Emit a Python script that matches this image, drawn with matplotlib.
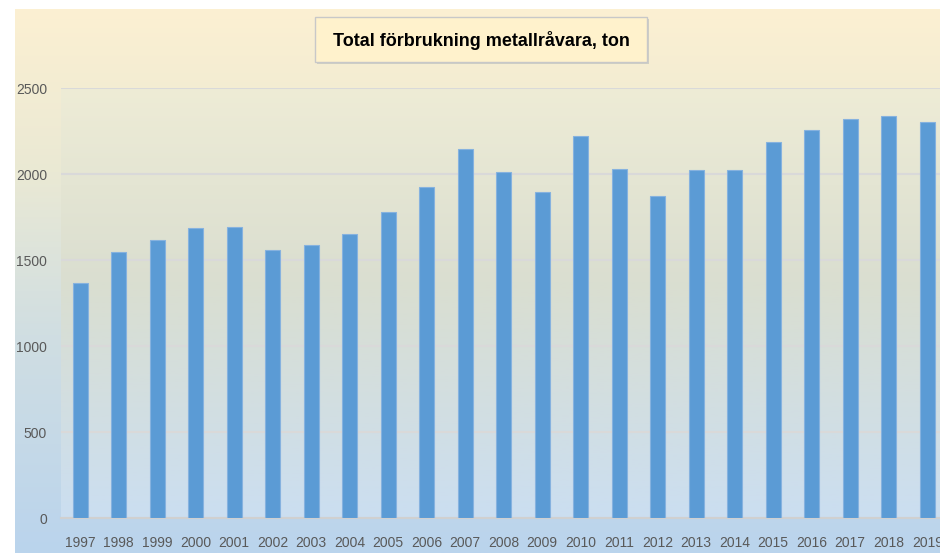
import matplotlib
matplotlib.use('Agg')
import matplotlib.pyplot as plt
from matplotlib.patches import Rectangle
import numpy as np

# Values (ton)
years = ['1997', '1998', '1999', '2000', '2001', '2002', '2003', '2004', '2005', '2006', '2007', '2008',
         '2009', '2010', '2011', '2012', '2013', '2014', '2015', '2016', '2017', '2018', '2019']
tonnes = [1366, 1550, 1618, 1686, 1695, 1558, 1591, 1653, 1783, 1928, 2145, 2015,
          1895, 2224, 2033, 1876, 2025, 2025, 2190, 2259, 2320, 2339, 2302]
y_ticks = [0, 500, 1000, 1500, 2000, 2500]
title = 'Total förbrukning metallråvara, ton'

W, H = 940, 553
label_font = ['Liberation Sans', 'DejaVu Sans']


def gradient(stops, n=256):
    # vertical colour ramp, top row first
    pos = np.array([s[0] for s in stops])
    cols = np.array([s[1] for s in stops], dtype=float) / 255
    t = np.linspace(0, 1, n)
    rgb = np.stack([np.interp(t, pos, cols[:, k]) for k in range(3)], axis=1)
    return rgb[:, None, :]


fig = plt.figure(figsize=(W / 100, H / 100), dpi=100)
fig.patch.set_facecolor('white')

# chart area background (whole chart, under the white margin strips)
ax_bg = fig.add_axes([15 / W, 0, 1 - 15 / W, (H - 9) / H], zorder=0)
ax_bg.imshow(gradient([(0, (252, 240, 210)), (0.3, (234, 233, 212)), (0.6, (208, 222, 226)), (1, (186, 212, 237))]),
             aspect='auto', extent=[0, 1, 0, 1])
ax_bg.set_axis_off()

# plot area position
left, right = 61, 946.5
top, bottom = 88.3, 518.3
pos = [left / W, 1 - bottom / H, (right - left) / W, (bottom - top) / H]

ax_pbg = fig.add_axes(pos, zorder=1)
ax_pbg.imshow(gradient([(0, (238, 236, 214)), (0.45, (218, 222, 208)), (1, (203, 222, 241))]),
              aspect='auto', extent=[0, 1, 0, 1])
ax_pbg.set_axis_off()

ax = fig.add_axes(pos, zorder=2)
ax.patch.set_visible(False)
x = np.arange(len(years))
ax.bar(x, tonnes, width=0.4, color='#5B9BD5', edgecolor='#86B2DF', linewidth=0.8, zorder=3)
ax.set_xlim(-0.5, len(years) - 0.5)
ax.set_ylim(0, 2500)
ax.set_yticks(y_ticks)
ax.set_xticks(x)
ax.set_xticklabels(years)
ax.yaxis.grid(True, color='#D9D9D9', linewidth=1.5, zorder=0)
ax.set_axisbelow(True)
for side in ['top', 'right', 'left']:
    ax.spines[side].set_visible(False)
ax.spines['bottom'].set_color('#D0D0D0')
ax.spines['bottom'].set_linewidth(1.5)
ax.tick_params(length=0, colors='#595959')
ax.tick_params(axis='y', pad=10)
ax.tick_params(axis='x', pad=13)
for lab in ax.get_xticklabels() + ax.get_yticklabels():
    lab.set_family(label_font)
    lab.set_fontsize(10)

# title box with a light shadow
bx0, bx1, by0, by1 = 315, 647, 17, 61.5
fig.patches.append(Rectangle((bx0 / W + 2 / W, 1 - (by1 + 2) / H), (bx1 - bx0) / W, (by1 - by0) / H,
                             transform=fig.transFigure, facecolor='#CFCFC4', edgecolor='none', zorder=3))
fig.patches.append(Rectangle((bx0 / W, 1 - by1 / H), (bx1 - bx0) / W, (by1 - by0) / H,
                             transform=fig.transFigure, facecolor='#FFF2CC', edgecolor='#C8C8C8',
                             linewidth=1, zorder=4))
fig.text((bx0 + bx1) / 2 / W, 1 - 40 / H, title, ha='center', va='center', fontsize=13,
         fontweight='bold', family=label_font, color='black', zorder=5)

fig.savefig('out.png', dpi=100)
